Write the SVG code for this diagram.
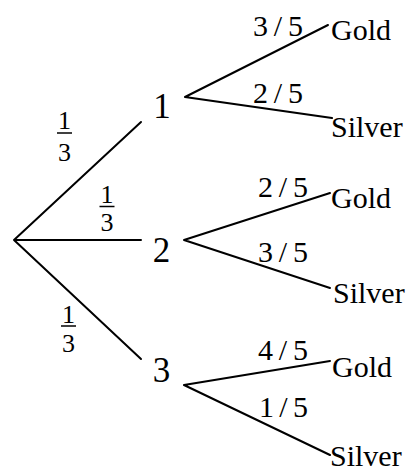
<svg xmlns="http://www.w3.org/2000/svg" width="409" height="473" viewBox="0 0 409 473">
<style>
.ln{stroke:#000;stroke-width:2;fill:none;stroke-linecap:round}
.bar{stroke:#000;stroke-width:1.5}
text{font-family:"Liberation Serif","Times New Roman",serif;fill:#000}
.node{font-size:35px;text-anchor:middle}
.leaf{font-size:30px}
.fr{font-size:26px;text-anchor:middle}
.p{font-size:30px}
</style>
<rect width="409" height="473" fill="#fff"/>
<g id="connectors">
<path class="ln" d="M14 240L141 122M14 240L141 240M14 240L141 359"/>
<path class="ln" d="M185 97L328 25M185 97L332 118"/>
<path class="ln" d="M184 240L330 193M184 240L330 288"/>
<path class="ln" d="M184 385L330 361M184 385L330 455"/>
</g>
<g id="edge-labels">
<g id="frac-1"><text class="fr" x="64.5" y="129">1</text><line class="bar" x1="57" y1="133" x2="72" y2="133"/><text class="fr" x="64.5" y="161">3</text></g>
<g id="frac-2"><text class="fr" x="107" y="203">1</text><line class="bar" x1="99.5" y1="206.5" x2="114.5" y2="206.5"/><text class="fr" x="107" y="231">3</text></g>
<g id="frac-3"><text class="fr" x="68.5" y="323">1</text><line class="bar" x1="61" y1="326" x2="76" y2="326"/><text class="fr" x="68.5" y="352">3</text></g>
<text class="p" x="253" y="36" textLength="50" lengthAdjust="spacing">3/5</text>
<text class="p" x="253" y="103" textLength="50" lengthAdjust="spacing">2/5</text>
<text class="p" x="258" y="197" textLength="50" lengthAdjust="spacing">2/5</text>
<text class="p" x="258" y="262" textLength="50" lengthAdjust="spacing">3/5</text>
<text class="p" x="258" y="360" textLength="50" lengthAdjust="spacing">4/5</text>
<text class="p" x="259" y="417" textLength="49" lengthAdjust="spacing">1/5</text>
</g>
<g id="n1"><text class="node" x="162" y="118">1</text></g>
<g id="n2"><text class="node" x="161.5" y="262">2</text></g>
<g id="n3"><text class="node" x="161.5" y="382">3</text></g>
<g id="n1-gold"><text class="leaf" x="331" y="40">Gold</text></g>
<g id="n1-silver"><text class="leaf" x="331" y="137">Silver</text></g>
<g id="n2-gold"><text class="leaf" x="331" y="208">Gold</text></g>
<g id="n2-silver"><text class="leaf" x="333" y="303">Silver</text></g>
<g id="n3-gold"><text class="leaf" x="332" y="377">Gold</text></g>
<g id="n3-silver"><text class="leaf" x="330" y="466">Silver</text></g>
</svg>
